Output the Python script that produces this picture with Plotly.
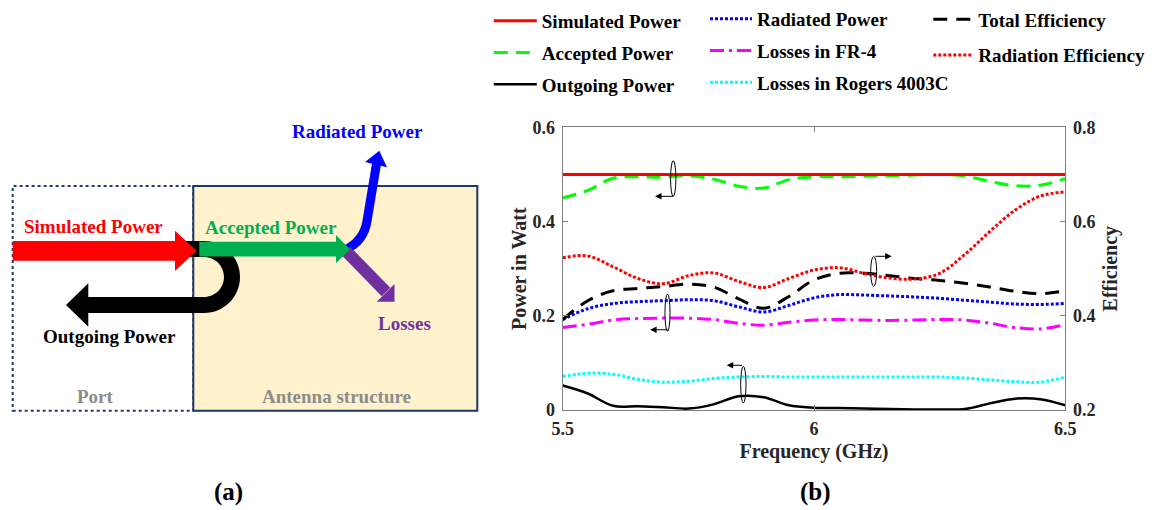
import plotly.graph_objects as go

W, H = 1162, 510
FONT = "Liberation Serif, Times New Roman, serif"

# ---------------- data ----------------
freq = [5.50, 5.55, 5.60, 5.65, 5.70, 5.75, 5.80, 5.85, 5.90, 5.95, 6.00,
        6.05, 6.10, 6.15, 6.20, 6.25, 6.30, 6.35, 6.40, 6.45, 6.50]

simulated_power = [0.500, 0.500, 0.500, 0.500, 0.500, 0.500, 0.500, 0.500, 0.500, 0.500, 0.500,
                   0.500, 0.500, 0.500, 0.500, 0.500, 0.500, 0.500, 0.500, 0.500, 0.500]
accepted_power = [0.450, 0.466, 0.492, 0.495, 0.494, 0.497, 0.490, 0.475, 0.471, 0.489, 0.495,
                  0.495, 0.496, 0.497, 0.499, 0.500, 0.497, 0.485, 0.476, 0.477, 0.491]
outgoing_power = [0.052, 0.035, 0.009, 0.008, 0.006, 0.003, 0.012, 0.029, 0.027, 0.010, 0.005,
                  0.004, 0.003, 0.002, 0.001, 0.001, 0.002, 0.014, 0.024, 0.023, 0.010]
radiated_power = [0.192, 0.215, 0.226, 0.230, 0.232, 0.234, 0.232, 0.219, 0.208, 0.222, 0.238,
                  0.245, 0.244, 0.242, 0.240, 0.237, 0.233, 0.229, 0.225, 0.224, 0.226]
losses_fr4 = [0.175, 0.182, 0.191, 0.194, 0.195, 0.195, 0.192, 0.184, 0.180, 0.186, 0.191,
              0.192, 0.191, 0.190, 0.191, 0.192, 0.191, 0.184, 0.175, 0.172, 0.181]
losses_rogers = [0.071, 0.078, 0.076, 0.065, 0.059, 0.061, 0.067, 0.070, 0.071, 0.070, 0.070,
                 0.070, 0.070, 0.070, 0.070, 0.070, 0.068, 0.064, 0.060, 0.059, 0.070]
total_efficiency = [0.392, 0.432, 0.453, 0.458, 0.462, 0.467, 0.461, 0.436, 0.416, 0.441, 0.476,
                    0.490, 0.490, 0.485, 0.479, 0.475, 0.469, 0.461, 0.452, 0.447, 0.453]
radiation_efficiency = [0.523, 0.527, 0.504, 0.479, 0.468, 0.485, 0.491, 0.473, 0.460, 0.479, 0.497,
                        0.502, 0.490, 0.480, 0.478, 0.490, 0.530, 0.579, 0.624, 0.654, 0.663]

x_ticks = [5.5, 6, 6.5]
power_ticks = [0, 0.2, 0.4, 0.6]
eff_ticks = [0.2, 0.4, 0.6, 0.8]

# ellipse markers (x0, x1, y0, y1) in left-axis units, and arrows (tail x, head x, y)
ellipses = [(5.7146, 5.7252, 0.4535, 0.529), (5.7035, 5.7135, 0.167, 0.2462),
            (5.8541, 5.8647, 0.0149, 0.0927), (6.1128, 6.1247, 0.2625, 0.3262)]
arrows = [(5.7225, 5.6836, 0.4535), (5.7116, 5.674, 0.1704),
          (5.8595, 5.8263, 0.0949), (6.1194, 6.1546, 0.3262)]

fig = go.Figure()

def add(y, name, color, width, dash, legend, group, yaxis="y"):
    fig.add_trace(go.Scatter(
        x=freq, y=y, name=name, mode="lines", yaxis=yaxis,
        line=dict(color=color, width=width, dash=dash, shape="spline"),
        legend=legend, legendgroup=group, hoverinfo="skip"))

add(losses_rogers, "Losses in Rogers 4003C", "#00FFFF", 3, "3px,2px", "legend2", "r3")
add(losses_fr4, "Losses in FR-4", "#FF00FF", 3, "14px,5px,3px,5px", "legend2", "r2")
add(radiated_power, "Radiated Power", "#0000FF", 3, "3px,2px", "legend2", "r1")
add(total_efficiency, "Total Efficiency", "#000000", 3, "14px,9px", "legend3", "t1", "y2")
add(radiation_efficiency, "Radiation Efficiency", "#FF0000", 3, "3px,2px", "legend3", "t2", "y2")
add(outgoing_power, "Outgoing Power", "#000000", 2.5, "solid", "legend", "s3")
add(accepted_power, "Accepted Power", "#00FF00", 3, "14px,8px", "legend", "s2")
add(simulated_power, "Simulated Power", "#FF0000", 3, "solid", "legend", "s1")

order = ["Simulated Power", "Accepted Power", "Outgoing Power", "Radiated Power",
         "Losses in FR-4", "Losses in Rogers 4003C", "Total Efficiency", "Radiation Efficiency"]
for t in fig.data:
    t.legendrank = order.index(t.name) + 1

tickfont = dict(family=FONT, size=18, color="#262626", weight="bold")
titlefont = dict(family=FONT, size=20, color="#262626", weight="bold")
axcol = "#808080"

fig.update_layout(
    width=W, height=H, margin=dict(l=0, r=0, t=0, b=0, pad=0, autoexpand=False),
    paper_bgcolor="white", plot_bgcolor="white",
    xaxis=dict(domain=[562.7 / W, 1065.3 / W], range=[5.5, 6.5], tickvals=x_ticks,
               ticks="inside", ticklen=5, tickcolor=axcol, showline=True, linecolor=axcol,
               linewidth=1, mirror="ticks", showgrid=False, zeroline=False,
               tickfont=tickfont, ticklabelstandoff=2, automargin=False,
               title=dict(text="Frequency (GHz)", font=titlefont, standoff=6)),
    yaxis=dict(domain=[(H - 410) / H, (H - 127.3) / H], range=[0, 0.6], tickvals=power_ticks,
               ticks="inside", ticklen=5, tickcolor=axcol, showline=True, linecolor=axcol,
               linewidth=1, showgrid=False, zeroline=False, tickfont=tickfont,
               ticklabelstandoff=3, automargin=False,
               title=dict(text="Power in Watt", font=titlefont, standoff=0)),
    yaxis2=dict(overlaying="y", side="right", range=[0.2, 0.8], tickvals=eff_ticks,
                ticks="inside", ticklen=5, tickcolor=axcol, showline=True, linecolor=axcol,
                linewidth=1, showgrid=False, zeroline=False, tickfont=tickfont,
                ticklabelstandoff=3, automargin=False,
                title=dict(text="Efficiency", font=titlefont, standoff=8)),
    showlegend=True,
)

legfont = dict(family=FONT, size=19, color="black", weight="bold")
fig.update_layout(
    legend=dict(x=488.8 / W, y=1 - 1.9 / H, xanchor="left", yanchor="top", font=legfont,
                bgcolor="rgba(0,0,0,0)", itemwidth=43, tracegroupgap=4, traceorder="grouped"),
    legend2=dict(x=705 / W, y=1.0, xanchor="left", yanchor="top", font=legfont,
                 bgcolor="rgba(0,0,0,0)", itemwidth=42, tracegroupgap=4, traceorder="grouped"),
    legend3=dict(x=928.3 / W, y=1 - 0.5 / H, xanchor="left", yanchor="top", font=legfont,
                 bgcolor="rgba(0,0,0,0)", itemwidth=40, tracegroupgap=8, traceorder="grouped"),
)

for (x0, x1, y0, y1) in ellipses:
    fig.add_shape(type="circle", xref="x", yref="y", x0=x0, x1=x1, y0=y0, y1=y1,
                  line=dict(color="black", width=1))
for (xt, xh, yy) in arrows:
    fig.add_annotation(x=xh, y=yy, ax=xt, ay=yy, xref="x", yref="y", axref="x", ayref="y",
                       text="", showarrow=True, arrowhead=2, arrowsize=1.3, arrowwidth=1,
                       arrowcolor="black", standoff=0, startstandoff=0)

# ---------------- panel (a): diagram in paper coordinates ----------------
def px(x):
    return x / W

def py(y):
    return 1 - y / H

def path(cmds):
    out = []
    for c in cmds:
        if isinstance(c, str):
            out.append(c)
        else:
            out.append(f"{px(c[0]):.5f},{py(c[1]):.5f}")
    return " ".join(out)

fig.add_shape(type="rect", xref="paper", yref="paper", x0=px(12.7), x1=px(193.3),
              y0=py(410.7), y1=py(186), line=dict(color="#1F3864", width=2, dash="dot"),
              layer="below")
fig.add_shape(type="rect", xref="paper", yref="paper", x0=px(193.3), x1=px(477.3),
              y0=py(410.7), y1=py(186), fillcolor="#FFF2CC",
              line=dict(color="#1F3864", width=2), layer="below")

k = 0.5523
cx, cy, R, r = 204, 277, 36, 20
black_path = path([
    "M", (183, 241), "L", (cx, cy - R),
    "C", (cx + R * k, cy - R), (cx + R, cy - R * k), (cx + R, cy),
    "C", (cx + R, cy + R * k), (cx + R * k, cy + R), (cx, cy + R),
    "L", (88.3, cy + R), "L", (88.3, 326.7), "L", (66, 305), "L", (88.3, 283.3),
    "L", (88.3, cy + r), "L", (cx, cy + r),
    "C", (cx + r * k, cy + r), (cx + r, cy + r * k), (cx + r, cy),
    "C", (cx + r, cy - r * k), (cx + r * k, cy - r), (cx, cy - r),
    "L", (183, cy - r), "Z"])
fig.add_shape(type="path", xref="paper", yref="paper", path=black_path,
              fillcolor="black", line=dict(width=0))

red_path = path(["M", (12.7, 241), "L", (175, 241), "L", (175, 230.7), "L", (196.7, 250.8),
                 "L", (175, 271), "L", (175, 260.7), "L", (12.7, 260.7), "Z"])
fig.add_shape(type="path", xref="paper", yref="paper", path=red_path,
              fillcolor="#FF0000", line=dict(width=0))

fig.add_shape(type="path", xref="paper", yref="paper",
              path=path(["M", (345, 250), "Q", (364, 241), (367, 221), "L", (376.5, 164)]),
              line=dict(color="#0000FF", width=9))
fig.add_shape(type="path", xref="paper", yref="paper",
              path=path(["M", (365, 162), "L", (379.3, 150.7), "L", (387, 167.3), "Z"]),
              fillcolor="#0000FF", line=dict(width=0))

fig.add_shape(type="line", xref="paper", yref="paper", x0=px(346), y0=py(251),
              x1=px(386), y1=py(292), line=dict(color="#7030A0", width=12))
fig.add_shape(type="path", xref="paper", yref="paper",
              path=path(["M", (376.7, 301.7), "L", (394.5, 301.7), "L", (394.5, 284), "Z"]),
              fillcolor="#7030A0", line=dict(width=0))

green_path = path(["M", (199.3, 241.7), "L", (336, 241.7), "L", (336, 235), "L", (350, 249.2),
                   "L", (336, 263.3), "L", (336, 256.5), "L", (199.3, 256.5), "Z"])
fig.add_shape(type="path", xref="paper", yref="paper", path=green_path,
              fillcolor="#00B050", line=dict(width=0))

def label(x, y, text, color, size=19):
    fig.add_annotation(x=px(x), y=py(y), xref="paper", yref="paper", text=text,
                       showarrow=False, xanchor="center", yanchor="middle",
                       font=dict(family=FONT, size=size, color=color, weight="bold"))

label(357.5, 131, "Radiated Power", "#0000FF")
label(93.7, 226, "Simulated Power", "#FF0000")
label(271.2, 228, "Accepted Power", "#00B050")
label(109.2, 336.5, "Outgoing Power", "#000000")
label(404.4, 323, "Losses", "#7030A0")
label(95.8, 396, "Port", "#8C8C8C")
label(336, 396, "Antenna structure", "#8C8C8C")
label(228, 492, "(a)", "#000000", 25)
label(815, 492, "(b)", "#000000", 25)

fig.write_html("out.html", config={"displayModeBar": False},
               post_script="document.body.style.margin='0';")
